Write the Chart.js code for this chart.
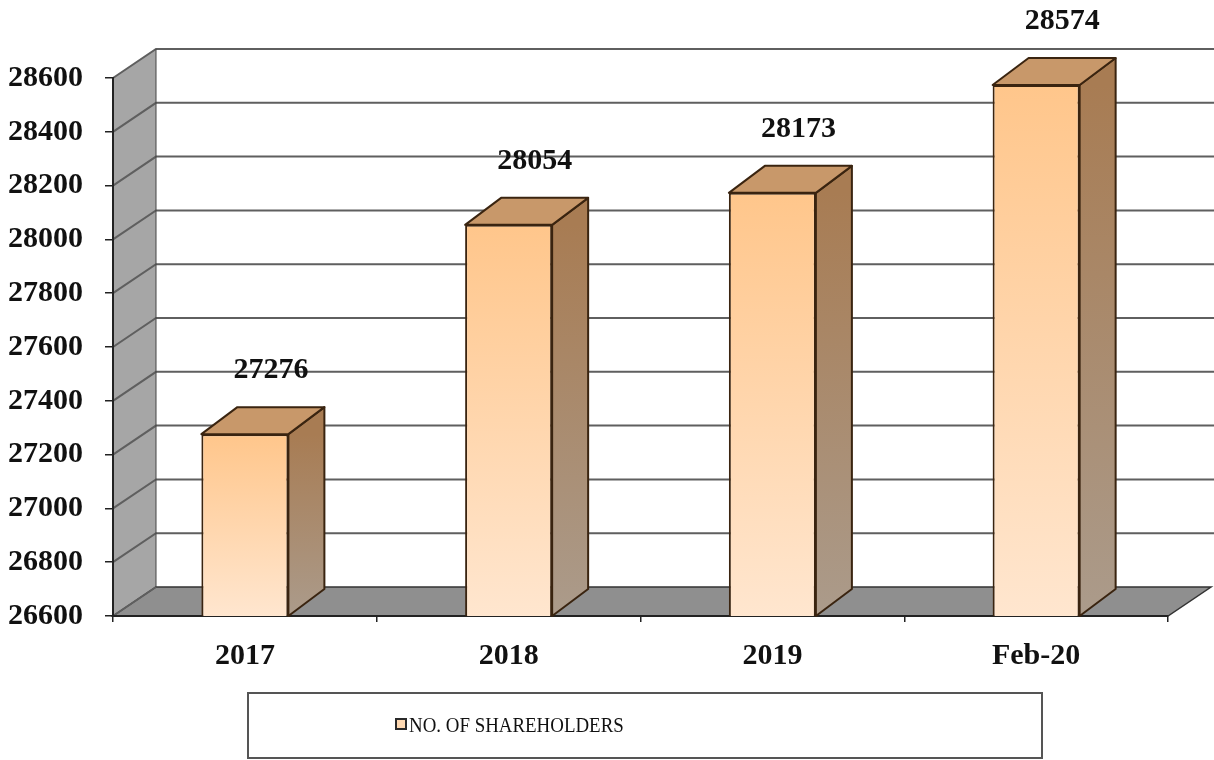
<!DOCTYPE html>
<html>
<head>
<meta charset="utf-8">
<script src="https://cdn.jsdelivr.net/npm/chart.js@4.4.1/dist/chart.umd.min.js"></script>
<style>
    body { margin: 0; background: #fff; }
    #wrap { width: 1214px; height: 760px; }
</style>
</head>
<body>
<div id="wrap"><canvas id="shareChart" width="1214" height="760"></canvas></div>
<script>
const categories = ['2017', '2018', '2019', 'Feb-20'];
const shareholders = [27276, 28054, 28173, 28574];
const yTicks = [26600, 26800, 27000, 27200, 27400, 27600, 27800, 28000, 28200, 28400, 28600];
const seriesName = 'NO. OF SHAREHOLDERS';

const WALL_DX = 43, WALL_DY = 29;   // depth of the back wall
const BAR_DX = 36, BAR_DY = 27;     // depth of each bar
const SERIF = "'Liberation Serif', 'Times New Roman', serif";

function frontGradient(ctx) {
    const chart = ctx.chart;
    const y = chart.scales.y;
    if (!chart.chartArea || !y || ctx.parsed === undefined) return '#ffd3a6';
    const top = y.getPixelForValue(ctx.parsed.y);
    const bottom = chart.chartArea.bottom;
    const g = chart.ctx.createLinearGradient(0, top, 0, bottom);
    g.addColorStop(0, '#ffc68b');
    g.addColorStop(1, '#ffe6cf');
    return g;
}

const box3d = {
    id: 'box3d',
    beforeDraw(chart) {
        const c = chart.ctx;
        const { left, right, top, bottom } = chart.chartArea;
        const y = chart.scales.y;
        c.save();
        // side wall
        c.beginPath();
        c.moveTo(left, bottom);
        c.lineTo(left, top);
        c.lineTo(left + WALL_DX, top - WALL_DY);
        c.lineTo(left + WALL_DX, bottom - WALL_DY);
        c.closePath();
        c.fillStyle = '#a6a6a6';
        c.fill();
        // floor
        c.beginPath();
        c.moveTo(left, bottom);
        c.lineTo(right, bottom);
        c.lineTo(right + WALL_DX, bottom - WALL_DY);
        c.lineTo(left + WALL_DX, bottom - WALL_DY);
        c.closePath();
        c.fillStyle = '#8f8f8f';
        c.fill();
        c.strokeStyle = '#333';
        c.lineWidth = 1.5;
        c.stroke();
        // gridlines on the walls
        c.strokeStyle = '#5f5f5f';
        c.lineWidth = 2;
        yTicks.forEach(v => {
            const py = y.getPixelForValue(v);
            c.beginPath();
            c.moveTo(left, py);
            c.lineTo(left + WALL_DX, py - WALL_DY);
            if (v !== yTicks[0]) c.lineTo(chart.width, py - WALL_DY);
            c.stroke();
        });
        // back corner of the walls
        c.beginPath();
        c.moveTo(left + WALL_DX, top - WALL_DY);
        c.lineTo(left + WALL_DX, bottom - WALL_DY);
        c.strokeStyle = '#444';
        c.lineWidth = 1;
        c.stroke();
        c.restore();
    },
    beforeDatasetsDraw(chart) {
        const c = chart.ctx;
        const meta = chart.getDatasetMeta(0);
        const floorY = chart.chartArea.bottom;
        c.save();
        c.lineJoin = 'round';
        c.strokeStyle = '#3a2410';
        c.lineWidth = 2;
        meta.data.forEach(bar => {
            const x0 = bar.x - bar.width / 2;
            const x1 = bar.x + bar.width / 2;
            const yt = bar.y;
            const yb = Math.min(bar.base, floorY);
            // side face
            const side = c.createLinearGradient(0, yt, 0, yb);
            side.addColorStop(0, '#a87c53');
            side.addColorStop(1, '#ab9b8b');
            c.beginPath();
            c.moveTo(x1, yb);
            c.lineTo(x1, yt);
            c.lineTo(x1 + BAR_DX, yt - BAR_DY);
            c.lineTo(x1 + BAR_DX, yb - BAR_DY);
            c.closePath();
            c.fillStyle = side;
            c.fill();
            c.stroke();
            // top face
            c.beginPath();
            c.moveTo(x0, yt);
            c.lineTo(x1, yt);
            c.lineTo(x1 + BAR_DX, yt - BAR_DY);
            c.lineTo(x0 + BAR_DX, yt - BAR_DY);
            c.closePath();
            c.fillStyle = '#c8986a';
            c.fill();
            c.stroke();
        });
        c.restore();
    },
    afterDatasetsDraw(chart) {
        const c = chart.ctx;
        const meta = chart.getDatasetMeta(0);
        c.save();
        c.font = 'bold 30px ' + SERIF;
        c.fillStyle = '#111';
        c.textAlign = 'center';
        c.textBaseline = 'middle';
        meta.data.forEach((bar, i) => {
            c.fillText(String(shareholders[i]), bar.x + 26, bar.y - 64);
        });
        c.restore();
    },
    afterDraw(chart) {
        // legend box under the axis
        const c = chart.ctx;
        c.save();
        c.fillStyle = '#fff';
        c.fillRect(248, 693, 794, 65);
        c.strokeStyle = '#555';
        c.lineWidth = 2;
        c.strokeRect(248, 693, 794, 65);
        c.fillStyle = '#ffd9b2';
        c.fillRect(396, 719, 10, 10);
        c.strokeStyle = '#2a2a2a';
        c.lineWidth = 2;
        c.strokeRect(396, 719, 10, 10);
        c.font = '21px ' + SERIF;
        c.fillStyle = '#111';
        c.textBaseline = 'middle';
        c.translate(409, 726);
        c.scale(0.9, 1);
        c.fillText(seriesName, 0, 0);
        c.restore();
    }
};

new Chart(document.getElementById('shareChart'), {
    type: 'bar',
    data: {
        labels: categories,
        datasets: [{
            label: seriesName,
            data: shareholders,
            backgroundColor: frontGradient,
            borderColor: '#3a2410',
            borderWidth: 2,
            barPercentage: 0.33,
            categoryPercentage: 1
        }]
    },
    options: {
        responsive: false,
        animation: false,
        layout: { padding: { top: 78, right: 46, bottom: 74, left: 0 } },
        plugins: {
            legend: { display: false },
            tooltip: { enabled: false }
        },
        scales: {
            x: {
                offset: true,
                grid: {
                    offset: true,
                    drawOnChartArea: false,
                    drawTicks: true,
                    tickLength: 6,
                    color: '#222',
                    lineWidth: 1.5
                },
                border: { color: '#222', width: 2 },
                ticks: {
                    color: '#111',
                    padding: 16,
                    font: { family: SERIF, size: 30, weight: 'bold' }
                },
                afterFit(scale) { scale.height = 70; }
            },
            y: {
                min: yTicks[0],
                max: yTicks[yTicks.length - 1],
                grid: {
                    drawOnChartArea: false,
                    drawTicks: true,
                    tickLength: 8,
                    color: '#222',
                    lineWidth: 1.5
                },
                border: { color: '#222', width: 2 },
                ticks: {
                    stepSize: 200,
                    color: '#111',
                    padding: 22,
                    font: { family: SERIF, size: 30, weight: 'bold' },
                    callback: v => String(v)
                },
                afterFit(scale) { scale.width = 113; }
            }
        }
    },
    plugins: [box3d]
});
</script>
</body>
</html>
